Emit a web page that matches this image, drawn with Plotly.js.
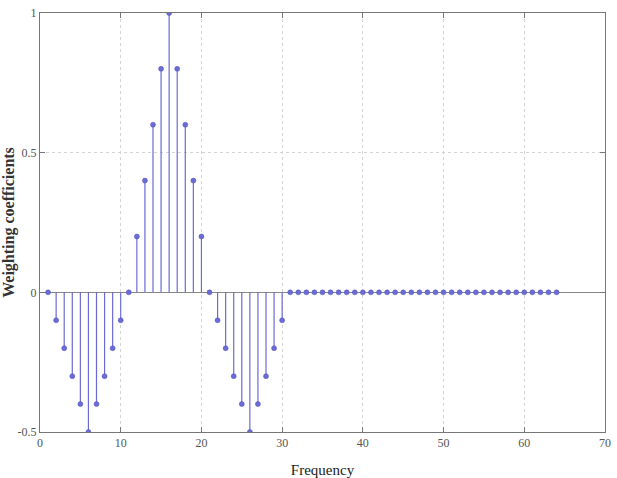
<!DOCTYPE html>
<html>
<head>
<meta charset="utf-8">
<script src="https://cdn.plot.ly/plotly-3.0.1.min.js"></script>
<style>html,body{margin:0;padding:0;background:#fff;}#chart{width:617px;height:478px;}</style>
</head>
<body>
<div id="chart"></div>
<script>
const frequency = [];
for (let i = 1; i <= 64; i++) frequency.push(i);
const coefficients = [
  0, -0.1, -0.2, -0.3, -0.4, -0.5, -0.4, -0.3, -0.2, -0.1,
  0, 0.2, 0.4, 0.6, 0.8, 1.0, 0.8, 0.6, 0.4, 0.2,
  0, -0.1, -0.2, -0.3, -0.4, -0.5, -0.4, -0.3, -0.2, -0.1,
  0, 0, 0, 0, 0, 0, 0, 0, 0, 0,
  0, 0, 0, 0, 0, 0, 0, 0, 0, 0,
  0, 0, 0, 0, 0, 0, 0, 0, 0, 0,
  0, 0, 0, 0
];
const xTicks = [0, 10, 20, 30, 40, 50, 60, 70];
const yTicks = [-0.5, 0, 0.5, 1];
const yTickLabels = ['-0.5', '0', '0.5', '1'];

const stemX = [], stemY = [];
frequency.forEach((f, i) => { stemX.push(f, f, null); stemY.push(0, coefficients[i], null); });

const color = '#6b6bd6';
const traces = [
  {x: stemX, y: stemY, mode: 'lines', line: {color: color, width: 1.2}, hoverinfo: 'skip', showlegend: false},
  {x: frequency, y: coefficients, mode: 'markers', marker: {color: color, size: 5, line: {color: '#5555bb', width: 0.5}}, showlegend: false}
];

const serif = 'Liberation Serif';
const axisFont = {family: serif, size: 12, color: '#555'};
const layout = {
  width: 617, height: 478,
  margin: {l: 40, r: 12, t: 13, b: 46},
  paper_bgcolor: '#fff', plot_bgcolor: '#fff',
  xaxis: {
    range: [0, 70], tickvals: xTicks, ticktext: xTicks.map(String),
    showgrid: true, gridcolor: '#d4d4d4', griddash: 'dot', gridwidth: 1,
    zeroline: false, showline: true, linecolor: '#777', linewidth: 1, mirror: 'ticks',
    ticks: 'inside', ticklen: 5, tickcolor: '#777',
    tickfont: axisFont,
    title: {text: 'Frequency', font: {family: serif, size: 15, color: '#222'}, standoff: 25}
  },
  yaxis: {
    range: [-0.5, 1], tickvals: yTicks, ticktext: yTickLabels,
    showgrid: true, gridcolor: '#d4d4d4', griddash: 'dot', gridwidth: 1,
    zeroline: true, zerolinecolor: '#888', zerolinewidth: 1,
    showline: true, linecolor: '#777', linewidth: 1, mirror: 'ticks',
    ticks: 'inside', ticklen: 5, tickcolor: '#777',
    tickfont: axisFont,
    title: {text: '<b>Weighting coefficients</b>', font: {family: serif, size: 16, color: '#333'}, standoff: 3}
  }
};
Plotly.newPlot('chart', traces, layout, {staticPlot: true, displayModeBar: false});
</script>
</body>
</html>
